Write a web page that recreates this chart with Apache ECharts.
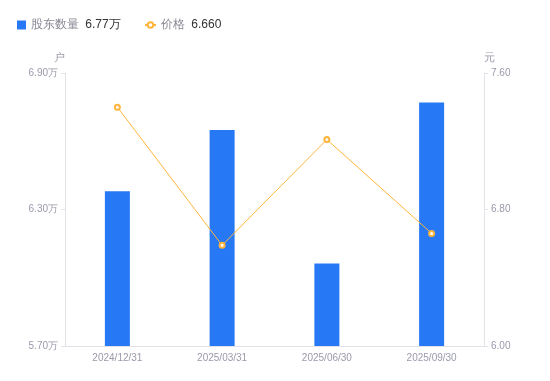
<!DOCTYPE html>
<html>
<head>
<meta charset="utf-8">
<script src="https://cdn.jsdelivr.net/npm/echarts@6/dist/echarts.min.js"></script>
<style>
  html, body { margin: 0; padding: 0; background: #fff; }
  #chart { width: 550px; height: 381px; }
</style>
</head>
<body>
<div id="chart"></div>
<script>
// 报告期
const categories = ['2024/12/31', '2025/03/31', '2025/06/30', '2025/09/30'];
// 股东数量 (户)
const holders = [63800, 66500, 60630, 67700];
// 价格 (元)
const prices = [7.40, 6.59, 7.21, 6.66];
const legendValues = { '股东数量': '6.77万', '价格': '6.660' };

const grey = '#9a9aab';
const chart = echarts.init(document.getElementById('chart'));

// legend 文本: 名称灰色 + 最新值深色
const legendText = {
    formatter: name => '{n|' + name + '} {v|' + legendValues[name] + '}',
    textStyle: {
        rich: {
            n: { color: '#888895', fontSize: 12 },
            v: { color: '#333', fontSize: 12, padding: [0, 0, 0, 3] }
        }
    }
};

chart.setOption({
    animation: false,
    legend: [
        Object.assign({
            left: 12,
            top: 14,
            itemWidth: 9,
            itemHeight: 9,
            data: [{ name: '股东数量', icon: 'rect' }]
        }, legendText),
        Object.assign({
            left: 139,
            top: 14,
            itemWidth: 11,
            itemHeight: 7,
            data: ['价格']
        }, legendText)
    ],
    grid: { left: 65, right: 66, top: 73, bottom: 35 },
    xAxis: {
        type: 'category',
        data: categories,
        axisLine: { lineStyle: { color: '#e2e2e8' } },
        axisTick: { show: false },
        axisLabel: { color: grey, fontSize: 10, margin: 7 }
    },
    yAxis: [
        {
            type: 'value',
            name: '户',
            min: 57000,
            max: 69000,
            interval: 6000,
            nameGap: 10,
            nameTextStyle: { color: grey, fontSize: 11, align: 'right' },
            axisLine: { show: true, lineStyle: { color: '#e2e2e8' } },
            axisTick: { show: true, length: 4, lineStyle: { color: '#e2e2e8' } },
            splitLine: { show: false },
            axisLabel: {
                color: grey,
                fontSize: 10,
                margin: 7,
                formatter: v => (v / 10000).toFixed(2) + '万'
            }
        },
        {
            type: 'value',
            name: '元',
            min: 6.0,
            max: 7.6,
            interval: 0.8,
            nameGap: 10,
            nameTextStyle: { color: grey, fontSize: 11, align: 'left' },
            axisLine: { show: true, lineStyle: { color: '#e2e2e8' } },
            axisTick: { show: true, length: 4, lineStyle: { color: '#e2e2e8' } },
            splitLine: { show: false },
            axisLabel: {
                color: grey,
                fontSize: 10,
                margin: 7,
                formatter: v => v.toFixed(2)
            }
        }
    ],
    series: [
        {
            name: '股东数量',
            type: 'bar',
            yAxisIndex: 0,
            barWidth: 25,
            data: holders,
            itemStyle: { color: '#2778f5' }
        },
        {
            name: '价格',
            type: 'line',
            yAxisIndex: 1,
            data: prices,
            symbol: 'emptyCircle',
            symbolSize: 5,
            lineStyle: { color: '#ffb53b', width: 1 },
            itemStyle: { color: '#ffb53b', borderWidth: 2 }
        }
    ]
});
</script>
</body>
</html>
